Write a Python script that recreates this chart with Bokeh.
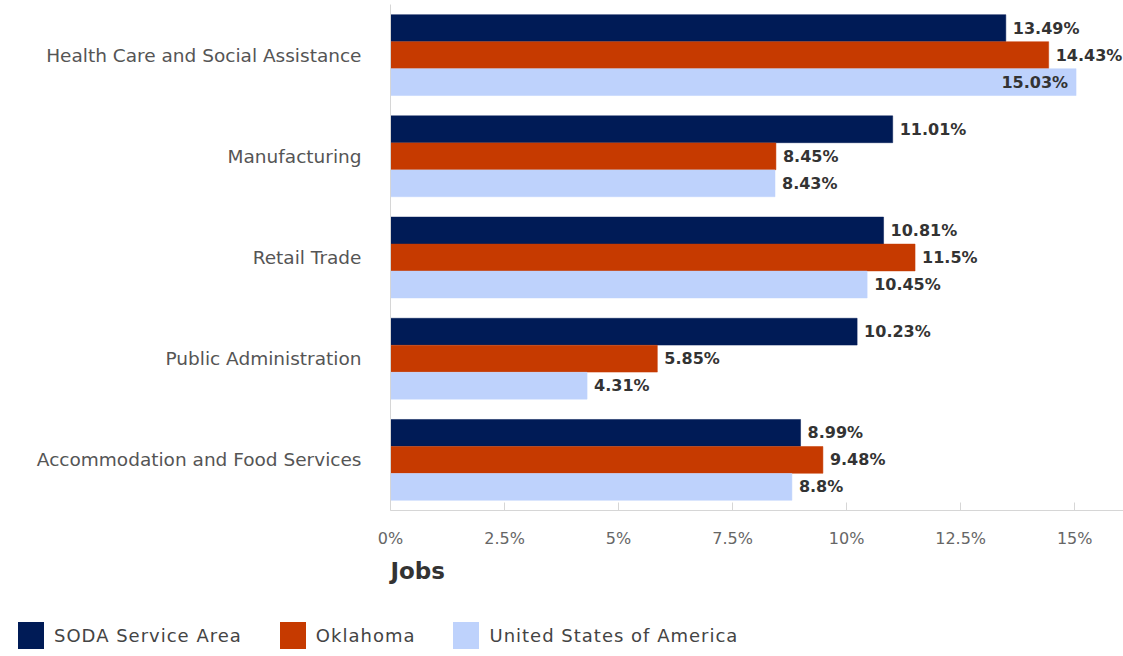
from bokeh.plotting import figure
from bokeh.layouts import column
from bokeh.models import (ColumnDataSource, FactorRange, Range1d, FixedTicker, LabelSet,
                          Title, Div)
from bokeh.transform import dodge
from bokeh.core.properties import value
from bokeh.embed import file_html
from bokeh.resources import INLINE

# ---- data ----
categories = ["Health Care and Social Assistance", "Manufacturing", "Retail Trade",
              "Public Administration", "Accommodation and Food Services"]
series_names = ["SODA Service Area", "Oklahoma", "United States of America"]
soda = [13.49, 11.01, 10.81, 10.23, 8.99]
oklahoma = [14.43, 8.45, 11.5, 5.85, 9.48]
usa = [15.03, 8.43, 10.45, 4.31, 8.8]
x_ticks = [0, 2.5, 5, 7.5, 10, 12.5, 15]
x_tick_labels = ["0%", "2.5%", "5%", "7.5%", "10%", "12.5%", "15%"]
axis_title = "Jobs"

# ---- styles ----
colors = ["#001b56", "#c63a00", "#bed2fc"]
offsets = [0.267, 0.0, -0.267]
bar_h = 0.265
FONT = "DejaVu Sans"
AXIS_GREY = "#d6d6d6"

p = figure(width=1123, height=600,
           y_range=FactorRange(factors=list(reversed(categories))),
           x_range=Range1d(0, 16.07),
           output_backend="svg", toolbar_location=None,
           min_border_left=390, min_border_right=0,
           min_border_top=4, min_border_bottom=90)

for name, vals, col, off in zip(series_names, [soda, oklahoma, usa], colors, offsets):
    src = ColumnDataSource(dict(cat=categories, val=vals))
    p.hbar(y=dodge("cat", off, range=p.y_range), left=0, right="val",
           height=bar_h, fill_color=col, line_color=col, line_width=0.5, source=src)

    outside = [(c, v) for c, v in zip(categories, vals) if v <= x_ticks[-1]]
    inside = [(c, v) for c, v in zip(categories, vals) if v > x_ticks[-1]]
    for subset, xoff, align in ((outside, 7, "left"), (inside, -8, "right")):
        lsrc = ColumnDataSource(dict(cat=[c for c, _ in subset],
                                     val=[v for _, v in subset],
                                     lbl=[f"{v}%" for _, v in subset]))
        p.add_layout(LabelSet(x="val", y=dodge("cat", off, range=p.y_range), text="lbl",
                              source=lsrc, x_offset=xoff, text_align=align,
                              text_baseline="middle", text_font=value(FONT),
                              text_font_size="16px", text_font_style="bold",
                              text_color="#333333"))

# axes
p.xgrid.visible = False
p.ygrid.visible = False
p.outline_line_color = None

xa = p.xaxis[0]
xa.ticker = FixedTicker(ticks=x_ticks)
xa.major_label_overrides = {t: l for t, l in zip(x_ticks, x_tick_labels)}
xa.axis_line_color = AXIS_GREY
xa.major_tick_line_color = AXIS_GREY
xa.major_tick_in = 8
xa.major_tick_out = 0
xa.minor_tick_line_color = None
xa.major_label_standoff = 18
xa.major_label_text_font = FONT
xa.major_label_text_font_size = "16px"
xa.major_label_text_color = "#666666"

ya = p.yaxis[0]
ya.axis_line_color = AXIS_GREY
ya.major_tick_line_color = None
ya.minor_tick_line_color = None
ya.major_tick_out = 0
ya.major_label_standoff = 29
ya.major_label_text_font = FONT
ya.major_label_text_font_size = "18.5px"
ya.major_label_text_color = "#555555"

p.add_layout(Title(text=axis_title, align="left", text_font=FONT, text_font_size="23px",
                   text_font_style="bold", text_color="#333333", standoff=11), "below")

# ---- legend strip (HTML) below the chart ----
legend_items = "".join(
    f'<span style="display:inline-flex;align-items:center;margin-right:38px;">'
    f'<span style="display:inline-block;width:26px;height:27px;background:{c};'
    f'margin-right:10px;"></span><span>{n}</span></span>'
    for n, c in zip(series_names, colors))
legend_div = Div(
    text=(f'<div style="display:flex;align-items:center;padding:22px 0 0 18px;'
          f'font-family:\'{FONT}\';font-size:18px;letter-spacing:1px;color:#444444;'
          f'white-space:nowrap;">{legend_items}</div>'),
    width=1123, height=56, margin=0)

layout = column(p, legend_div, spacing=0)
open("out.html", "w").write(file_html(layout, INLINE))
